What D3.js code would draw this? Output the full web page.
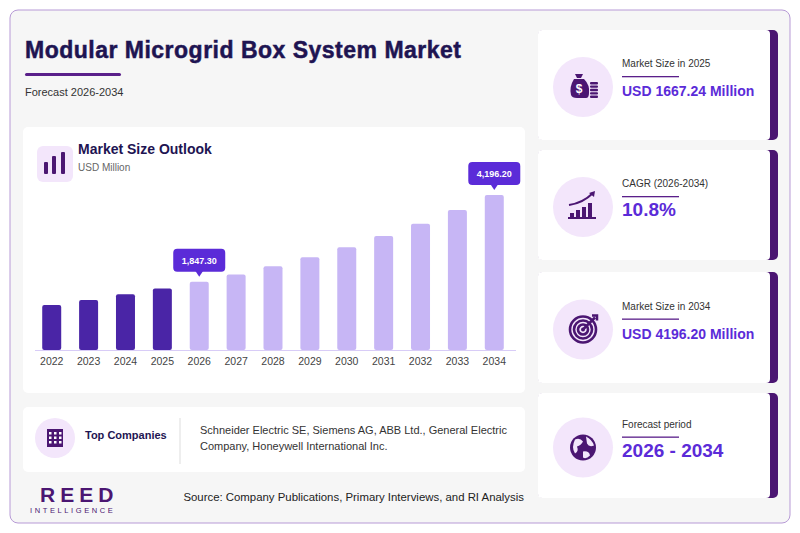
<!DOCTYPE html>
<html><head><meta charset="utf-8">
<script src="https://cdn.jsdelivr.net/npm/d3@7"></script>
<style>body{margin:0;background:#fff;font-family:"Liberation Sans",Arial,sans-serif}</style>
</head><body><svg id="c" width="800" height="533"></svg>
<script>
const years = ['2022','2023','2024','2025','2026','2027','2028','2029','2030','2031','2032','2033','2034'];
const values = [1220, 1355, 1508, 1667.24, 1847.3, 2047, 2268, 2513, 2784, 3085, 3418, 3787, 4196.2];
const callouts = ['2026', '2034'];
const stats = [
  {label: 'Market Size in 2025', value: 'USD 1667.24 Million', icon: 'bag'},
  {label: 'CAGR (2026-2034)', value: '10.8%', icon: 'growth'},
  {label: 'Market Size in 2034', value: 'USD 4196.20 Million', icon: 'target'},
  {label: 'Forecast period', value: '2026 - 2034', icon: 'globe'}
];
const companies = ['Schneider Electric SE, Siemens AG, ABB Ltd., General Electric', 'Company, Honeywell International Inc.'];

const svg = d3.select('#c');
const dark = '#4a25a6', light = '#c7b6f5', navy = '#1e1452', accent = '#5b2bd8';

svg.append('rect').attr('x', 10).attr('y', 10).attr('width', 780).attr('height', 513).attr('rx', 8)
  .attr('fill', '#f6f6f6').attr('stroke', '#b79ad6');

svg.append('text').attr('x', 25).attr('y', 58).text('Modular Microgrid Box System Market')
  .attr('font-size', 23).attr('font-weight', 700).attr('fill', navy).attr('textLength', 436).attr('stroke', navy).attr('stroke-width', 0.5);
svg.append('rect').attr('x', 25).attr('y', 73).attr('width', 96).attr('height', 3).attr('rx', 1.5).attr('fill', '#5a1f8a');
svg.append('text').attr('x', 25).attr('y', 96).text('Forecast 2026-2034').attr('font-size', 11).attr('fill', '#333');

// chart card
svg.append('rect').attr('x', 23).attr('y', 127).attr('width', 502).attr('height', 266).attr('rx', 5).attr('fill', '#fff');
svg.append('rect').attr('x', 37).attr('y', 146).attr('width', 36).attr('height', 36).attr('rx', 6).attr('fill', '#f3e6fb');
[[44, 12], [52, 18], [61, 22]].forEach(([bx, h]) =>
  svg.append('rect').attr('x', bx).attr('y', 174 - h).attr('width', 4).attr('height', h).attr('rx', 1).attr('fill', '#4b1672'));
svg.append('text').attr('x', 78).attr('y', 154).text('Market Size Outlook').attr('font-size', 14).attr('font-weight', 700).attr('fill', navy);
svg.append('text').attr('x', 78).attr('y', 171).text('USD Million').attr('font-size', 10).attr('fill', '#666');

const x = d3.scaleBand().domain(years).range([33, 513]).paddingInner(0.485).paddingOuter(0.25);
const y = d3.scaleLinear().domain([0, 4196.2]).range([350, 195]);

svg.append('g').selectAll('rect').data(years).join('rect')
  .attr('x', d => x(d)).attr('width', x.bandwidth())
  .attr('y', (d, i) => y(values[i])).attr('height', (d, i) => 350 - y(values[i]))
  .attr('rx', 2).attr('fill', d => +d <= 2025 ? dark : light);

const ax = svg.append('g').attr('transform', 'translate(0,350)')
  .call(d3.axisBottom(x).tickSize(0).tickPadding(8));
ax.select('.domain').attr('stroke', '#d8ccf7').attr('d', 'M35,0.5H516');
ax.selectAll('text').attr('font-size', 10.5).attr('fill', '#444').attr('font-family', '"Liberation Sans",Arial,sans-serif');

callouts.forEach(yr => {
  const i = years.indexOf(yr);
  const cx = x(yr) + x.bandwidth() / 2, top = y(values[i]);
  const g = svg.append('g');
  g.append('rect').attr('x', cx - 26).attr('y', top - 33).attr('width', 52).attr('height', 23).attr('rx', 4).attr('fill', accent);
  g.append('path').attr('d', `M${cx - 4},${top - 11}L${cx + 4},${top - 11}L${cx},${top - 5}Z`).attr('fill', accent);
  g.append('text').attr('x', cx).attr('y', top - 18).attr('text-anchor', 'middle')
    .text(d3.format(',.2f')(values[i])).attr('font-size', 9).attr('font-weight', 700).attr('fill', '#fff');
});

// companies card
svg.append('rect').attr('x', 23).attr('y', 407).attr('width', 502).attr('height', 65).attr('rx', 5).attr('fill', '#fff');
svg.append('circle').attr('cx', 55).attr('cy', 438).attr('r', 20).attr('fill', '#f3e6fb');
svg.append('rect').attr('x', 47).attr('y', 429).attr('width', 16).attr('height', 18).attr('fill', '#4b1672');
for (let r = 0; r < 3; r++) for (let c = 0; c < 3; c++)
  svg.append('rect').attr('x', 49 + c * 5).attr('y', 432 + r * 4.5).attr('width', 2.5).attr('height', 2.5).attr('fill', '#fff');
svg.append('text').attr('x', 85).attr('y', 439).text('Top Companies').attr('font-size', 11).attr('font-weight', 700).attr('fill', navy);
svg.append('line').attr('x1', 180).attr('x2', 180).attr('y1', 418).attr('y2', 464).attr('stroke', '#ddd');
companies.forEach((t, i) => svg.append('text').attr('x', 200).attr('y', 434 + i * 16).text(t).attr('font-size', 11).attr('fill', '#333'));

// logo + source
svg.append('text').attr('x', 40).attr('y', 502).text('REED').attr('font-size', 21).attr('font-weight', 700)
  .attr('letter-spacing', 5).attr('fill', '#4b1672');
svg.append('text').attr('x', 30).attr('y', 513).text('INTELLIGENCE').attr('font-size', 7.5)
  .attr('letter-spacing', 2.6).attr('fill', '#4b1672');
svg.append('text').attr('x', 524).attr('y', 501).attr('text-anchor', 'end')
  .text('Source: Company Publications, Primary Interviews, and RI Analysis').attr('font-size', 11.4).attr('fill', '#222');

// stat cards
const cardY = [30, 150, 272, 393], cardH = [110, 110, 111, 105];
const icons = {
  bag: g => {
    g.append('path').attr('d', 'M-9,-8 Q-14,0 -12,8 Q-11,11 -6,11 L3,11 Q6,11 6,6 Q7,-2 1,-8Z').attr('fill', '#4b1672');
    g.append('path').attr('d', 'M-8,-13 L0,-13 L-2,-9 L-6,-9Z').attr('fill', '#4b1672');
    g.append('text').attr('x', -4).attr('y', 6).attr('text-anchor', 'middle').text('$').attr('font-size', 12).attr('font-weight', 700).attr('fill', '#fff');
    for (let k = 0; k < 5; k++) g.append('rect').attr('x', 7).attr('y', -5 + k * 3.4).attr('width', 8).attr('height', 2.4).attr('rx', 1).attr('fill', '#4b1672');
  },
  growth: g => {
    [4, 7, 10, 14].forEach((h, k) => g.append('rect').attr('x', -13 + k * 6).attr('y', 10 - h).attr('width', 4).attr('height', h).attr('fill', '#4b1672'));
    g.append('rect').attr('x', -15).attr('y', 10).attr('width', 28).attr('height', 2).attr('fill', '#4b1672');
    g.append('path').attr('d', 'M-14,-2 Q0,-4 10,-14').attr('fill', 'none').attr('stroke', '#4b1672').attr('stroke-width', 2);
    g.append('path').attr('d', 'M6,-14 L12,-16 L11,-10Z').attr('fill', '#4b1672');
  },
  target: g => {
    [13, 9, 5].forEach(r => g.append('circle').attr('r', r).attr('fill', 'none').attr('stroke', '#4b1672').attr('stroke-width', 2.6));
    g.append('circle').attr('r', 2).attr('fill', '#4b1672');
    g.append('path').attr('d', 'M0,0 L12,-12 M9,-14 L14,-14 L14,-9').attr('stroke', '#4b1672').attr('stroke-width', 2.5).attr('fill', 'none');
  },
  globe: g => {
    g.append('circle').attr('r', 13).attr('fill', '#4b1672');
    g.append('path').attr('d', 'M-8,-8 Q-3,-10 0,-6 Q-2,-2 -6,-1 Q-4,4 -8,6 Q-12,0 -8,-8Z M3,-11 Q9,-8 11,-2 Q6,0 4,-4Z M0,4 Q6,3 7,8 Q3,12 0,10Z')
      .attr('fill', '#f3e6fb');
  }
};
stats.forEach((s, i) => {
  const g = svg.append('g').attr('transform', `translate(538,${cardY[i]})`);
  g.append('rect').attr('x', 0).attr('width', 240).attr('height', cardH[i]).attr('rx', 5).attr('fill', '#4b1672');
  g.append('rect').attr('x', 0).attr('width', 232).attr('height', cardH[i]).attr('rx', 4).attr('fill', '#fff');
  const ic = g.append('g').attr('transform', `translate(45,${cardH[i] / 2 + 2})`);
  ic.append('circle').attr('r', 30).attr('fill', '#f3e6fb');
  icons[s.icon](ic);
  const mid = cardH[i] / 2;
  g.append('text').attr('x', 84).attr('y', mid - 18).text(s.label).attr('font-size', 10).attr('fill', '#333');
  g.append('rect').attr('x', 84).attr('y', mid - 9).attr('width', 57).attr('height', 1.3).attr('fill', '#5a1f8a');
  g.append('text').attr('x', 84).attr('y', mid + 11).text(s.value)
    .attr('font-size', s.value.length < 12 ? 19 : 14).attr('font-weight', 700).attr('fill', accent);
});
</script></body></html>
